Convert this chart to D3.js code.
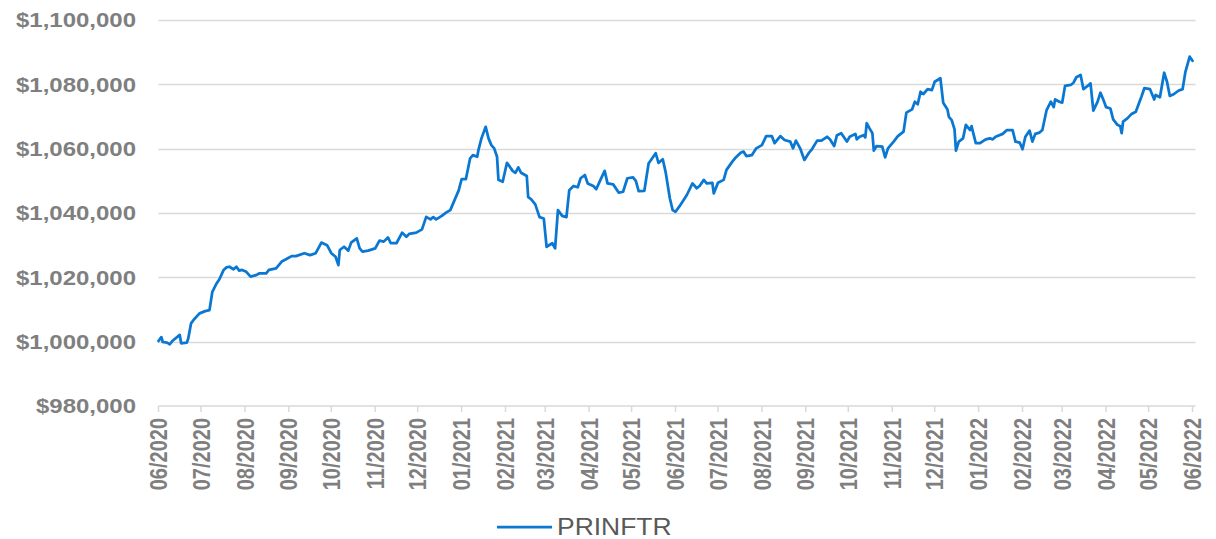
<!DOCTYPE html>
<html>
<head>
<meta charset="utf-8">
<script src="https://cdn.jsdelivr.net/npm/d3@7"></script>
<style>
  html, body { margin: 0; padding: 0; background: #ffffff; }
  svg { display: block; }
  text { font-family: "Liberation Sans", Arial, sans-serif; }
</style>
</head>
<body>
<svg id="chart" width="1216" height="539"></svg>
<script>
const seriesName = "PRINFTR";
const startDate = "2020-06-01";
const endDate = "2022-06-01";
const yTickValues = [980000, 1000000, 1020000, 1040000, 1060000, 1080000, 1100000];

// days elapsed since startDate
const dayOffsets = [
  0, 2, 3, 6, 8, 10, 15, 16, 20, 21, 23, 25, 29, 33, 36, 38, 41, 43, 46, 48,
  50, 53, 55, 57, 59, 62, 65, 69, 71, 76, 78, 83, 87, 90, 94, 97, 103, 107, 111, 115,
  119, 122, 125, 127, 128, 131, 134, 136, 140, 142, 144, 148, 153, 156, 159, 162, 164, 168, 172, 175,
  177, 182, 186, 189, 192, 194, 196, 200, 203, 206, 209, 212, 214, 217, 220, 222, 225, 226, 228, 231,
  233, 235, 237, 239, 240, 243, 246, 248, 250, 252, 254, 256, 260, 261, 263, 266, 269, 272, 274, 278,
  280, 282, 285, 288, 290, 293, 296, 298, 301, 303, 307, 309, 312, 315, 317, 321, 325, 328, 331, 335,
  337, 339, 343, 346, 351, 353, 356, 358, 361, 363, 365, 368, 373, 377, 380, 382, 385, 387, 391, 392,
  395, 399, 401, 405, 407, 411, 413, 415, 419, 422, 426, 429, 433, 435, 439, 442, 446, 448, 450, 453,
  456, 459, 461, 465, 468, 472, 474, 477, 479, 482, 486, 488, 492, 493, 495, 498, 499, 500, 502, 504,
  505, 507, 511, 513, 515, 519, 522, 526, 528, 532, 534, 536, 538, 540, 543, 546, 548, 552, 554, 557,
  558, 560, 562, 563, 565, 568, 570, 573, 574, 577, 580, 584, 587, 589, 591, 596, 599, 603, 605, 608,
  610, 612, 615, 617, 619, 622, 624, 627, 630, 632, 633, 636, 638, 640, 644, 646, 648, 651, 653, 656,
  658, 660, 663, 665, 667, 669, 672, 674, 677, 679, 680, 681, 684, 687, 690, 692, 694, 696, 700, 703,
  704, 707, 710, 712, 714, 717, 720, 723, 725, 728, 730
];

const values = [
  1000200, 1001400, 999900, 999700, 999200, 1000300, 1002100, 999500, 999700, 1001000,
  1005700, 1006900, 1008800, 1009500, 1009800, 1015500, 1018100, 1019400, 1022300, 1023100,
  1023300, 1022500, 1023300, 1022100, 1022300, 1021700, 1020200, 1020700, 1021200, 1021200,
  1022300, 1022800, 1024900, 1025600, 1026600, 1026600, 1027500, 1026900, 1027500, 1030800,
  1030000, 1027500, 1026400, 1023800, 1028500, 1029500, 1028300, 1030800, 1032100, 1029000,
  1028000, 1028300, 1029000, 1031400, 1031100, 1032400, 1030600, 1030600, 1033900, 1032600,
  1033500, 1033900, 1034900, 1038800, 1038000, 1038700, 1038000, 1039100, 1040100, 1040900,
  1044000, 1047100, 1050500, 1050500, 1057000, 1058000, 1057500, 1059800, 1063200, 1066800,
  1063200, 1061100, 1060100, 1057500, 1050300, 1049700, 1055600, 1054400, 1053100, 1052500,
  1054200, 1052500, 1051500, 1044900, 1044300, 1042700, 1038700, 1038300, 1029500, 1030600,
  1029000, 1040900, 1039100, 1038700, 1047100, 1048400, 1048000, 1050800, 1051800, 1049200,
  1048400, 1047400, 1050300, 1053100, 1049200, 1048900, 1046300, 1046600, 1050800, 1051100,
  1050000, 1046800, 1046900, 1055400, 1058600, 1055600, 1056700, 1052800, 1044600, 1040900,
  1040400, 1042200, 1045600, 1049200, 1047700, 1048400, 1050300, 1049200, 1049400, 1046100,
  1049400, 1050300, 1053400, 1055900, 1057000, 1058700, 1059100, 1057700, 1058000, 1060100,
  1061100, 1063900, 1063900, 1061700, 1063900, 1062700, 1062200, 1060100, 1062500, 1060100,
  1056500, 1058600, 1059600, 1062500, 1062500, 1063700, 1062900, 1060800, 1064200, 1064800,
  1062200, 1063700, 1064600, 1062900, 1063700, 1064200, 1063500, 1067900, 1066300, 1064800,
  1059400, 1060800, 1060600, 1057300, 1060100, 1062200, 1063900, 1065300, 1071200, 1072200,
  1074600, 1073800, 1077700, 1077000, 1078500, 1078200, 1080800, 1081900, 1074300, 1072200,
  1069900, 1068900, 1066000, 1059400, 1062200, 1063200, 1067400, 1065800, 1067000, 1061700,
  1061700, 1062900, 1063200, 1062900, 1063700, 1064600, 1065800, 1065800, 1062200, 1061900,
  1059800, 1063700, 1065600, 1062200, 1064600, 1065000, 1065800, 1072000, 1074600, 1072900,
  1075300, 1074600, 1074300, 1079500, 1079800, 1080500, 1082200, 1082900, 1078500, 1079500,
  1080300, 1071800, 1074600, 1077400, 1075300, 1072900, 1072500, 1069100, 1067400, 1067000,
  1064800, 1068400, 1069400, 1070800, 1071500, 1073900, 1076200, 1078800, 1078500, 1075300,
  1076700, 1076000, 1083600, 1080800, 1076400, 1077000, 1078000, 1078500, 1083900, 1088600,
  1087300
];

const parse = d3.timeParse("%Y-%m-%d");
const t0 = parse(startDate), t1 = parse(endDate);
const data = dayOffsets.map((d, i) => ({ date: d3.timeDay.offset(t0, d), value: values[i] }));

const svg = d3.select("#chart");
const x = d3.scaleTime().domain([t0, t1]).range([158.5, 1192.5]);
const y = d3.scaleLinear().domain([980000, 1100000]).range([406, 20]);
const axisRight = 1195.5;
const labelColor = "#7f7f7f";

// gridlines
svg.append("g").selectAll("line").data(yTickValues.filter(v => v > 980000)).join("line")
  .attr("x1", 158.5).attr("x2", axisRight)
  .attr("y1", d => Math.round(y(d)) + 0.5).attr("y2", d => Math.round(y(d)) + 0.5)
  .attr("stroke", "#d9d9d9").attr("stroke-width", 1.5);

// y labels
const fmt = v => "$" + d3.format(",")(v);
svg.append("g").selectAll("text").data(yTickValues).join("text")
  .attr("transform", d => `translate(136,${y(d)}) scale(1.2,1)`)
  .attr("text-anchor", "end").attr("dy", "0.36em")
  .attr("font-size", 20).attr("font-weight", "bold").attr("fill", labelColor)
  .text(fmt);

// x axis
const months = d3.timeMonth.range(t0, d3.timeDay.offset(t1, 1));
const xAxisG = svg.append("g").attr("transform", "translate(0,406)");
xAxisG.append("line").attr("x1", 158.5).attr("x2", axisRight).attr("y1", 0).attr("y2", 0)
  .attr("stroke", "#d9d9d9").attr("stroke-width", 1.5);
xAxisG.selectAll("line.tick").data(months).join("line").attr("class", "tick")
  .attr("x1", d => x(d)).attr("x2", d => x(d)).attr("y1", 0).attr("y2", 6)
  .attr("stroke", "#d9d9d9").attr("stroke-width", 1.5);
const fmtMonth = d3.timeFormat("%m/%Y");
xAxisG.selectAll("text").data(months).join("text")
  .attr("transform", d => `translate(${x(d)},12) scale(1.2,1) rotate(-90)`)
  .attr("text-anchor", "end").attr("dy", "0.36em")
  .attr("font-size", 20).attr("font-weight", "bold").attr("fill", labelColor)
  .text(fmtMonth);

// series line
const line = d3.line().x(d => x(d.date)).y(d => y(d.value)).curve(d3.curveLinear);
svg.append("path").datum(data)
  .attr("fill", "none").attr("stroke", "#0a78d2").attr("stroke-width", 2.75)
  .attr("stroke-linejoin", "round").attr("stroke-linecap", "round")
  .attr("d", line);

// legend
const lg = svg.append("g");
lg.append("line").attr("x1", 497).attr("x2", 552).attr("y1", 527).attr("y2", 527)
  .attr("stroke", "#0a78d2").attr("stroke-width", 2.75);
lg.append("text").attr("transform", "translate(557,535) scale(1.15,1)")
  .attr("font-size", 23).attr("fill", "#595959").text(seriesName);
</script>
</body>
</html>
